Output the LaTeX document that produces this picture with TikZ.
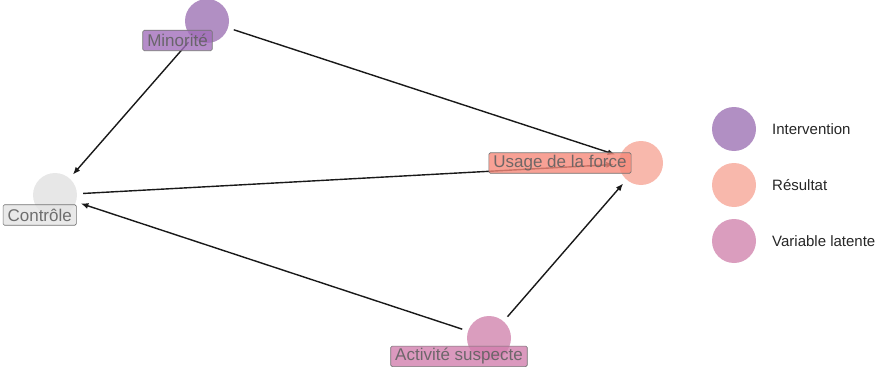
\documentclass[tikz,border=0pt]{standalone}
\usepackage{fontspec}
\setmainfont{Liberation Sans}
\usetikzlibrary{arrows.meta}
\definecolor{cInterv}{HTML}{AD89C0}
\definecolor{cResult}{HTML}{F8B4A8}
\definecolor{cLatent}{HTML}{D898BA}
\definecolor{cCtrl}{HTML}{E6E6E6}
\definecolor{tInterv}{HTML}{A26FBB}
\definecolor{tResult}{HTML}{F6897A}
\definecolor{tLatent}{HTML}{D27FAE}
\definecolor{tCtrl}{HTML}{E4E4E4}
\tikzset{
  dot/.style={circle, minimum size=44pt, inner sep=0pt, fill=#1, fill opacity=0.95},
  tag/.style={draw=black!55, line width=0.6pt, rounded corners=1.5pt, fill=#1, fill opacity=0.8,
    text=black!62, text opacity=0.9, inner xsep=4.5pt, inner ysep=0pt,
    minimum height=20.5pt, font=\fontsize{17}{18}\selectfont},
  edge/.style={draw=black!90, line width=1.4pt, -{Latex[length=7.5pt,width=6pt]},
    shorten <=6pt, shorten >=5pt},
  legtext/.style={anchor=west, inner sep=0pt, font=\fontsize{15}{16}\selectfont, text=black!85}
}
\begin{document}
\begin{tikzpicture}[x=1pt, y=-1pt]
\useasboundingbox (0,0) rectangle (881,369);

% variable nodes
\node[dot=cInterv] (min) at (207,21) {};
\node[dot=cCtrl]   (ctl) at (55,195) {};
\node[dot=cResult] (use) at (641,163) {};
\node[dot=cLatent] (act) at (489,338) {};

% causal edges
\draw[edge] (min) -- (use);
\draw[edge] (min) -- (ctl);
\draw[edge] (ctl) -- (use);
\draw[edge] (act) -- (ctl);
\draw[edge] (act) -- (use);

% text labels
\node[tag=tInterv] (minl) at (177.5,40.5) {Minorité};
\node[tag=tCtrl] (ctll) at (39.7,215) {Contrôle};
\node[tag=tResult] (usel) at (560,163) {Usage de la force};
\node[tag=tLatent] (actl) at (459,356.3) {Activité suspecte};

% legend
\node[dot=cInterv] (k1) at (734,129) {};
\node[dot=cResult] (k2) at (734,185) {};
\node[dot=cLatent] (k3) at (734,241) {};
\node[legtext] (k1t) at (772,129) {Intervention};
\node[legtext] (k2t) at (772,185) {Résultat};
\node[legtext] (k3t) at (772,241) {Variable latente};
\end{tikzpicture}
\end{document}
